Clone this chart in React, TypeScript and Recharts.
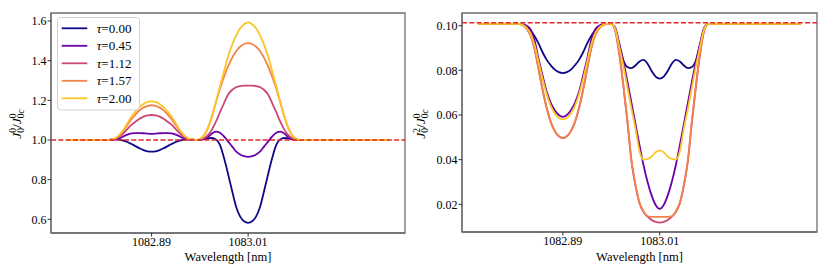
import React from 'react';
import { LineChart, Line, XAxis, YAxis, ReferenceLine, ReferenceArea } from 'recharts';

// wavelength grid [nm]
const wavelengths = [
  1082.785, 1082.8, 1082.82,
  1082.83, 1082.835, 1082.84, 1082.845, 1082.85, 1082.855, 1082.86, 1082.865, 1082.87, 1082.875,
  1082.88, 1082.885, 1082.89, 1082.895, 1082.9, 1082.905, 1082.91, 1082.915, 1082.92, 1082.925,
  1082.93, 1082.935, 1082.94, 1082.945,
  1082.95, 1082.955, 1082.96, 1082.965, 1082.97, 1082.975, 1082.98, 1082.985, 1082.99, 1082.995,
  1083.0, 1083.005, 1083.01, 1083.015, 1083.02, 1083.025, 1083.03, 1083.035, 1083.04, 1083.045,
  1083.05, 1083.055, 1083.06, 1083.065, 1083.07, 1083.075, 1083.08,
  1083.09, 1083.1, 1083.13, 1083.16, 1083.185,
];

const tauLabels = ['0.00', '0.45', '1.12', '1.57', '2.00'];
const tauColors = ['#0d0887', '#6a00a8', '#cc4778', '#f2844b', '#fcc527'];

// Left panel: J_0^0 / J_0c^0
const j00_t000 = [
  1.0, 1.0, 1.0,
  1.0, 1.0, 1.002, 1.004, 1.002, 0.997, 0.99, 0.98, 0.969, 0.958, 0.949, 0.943, 0.941,
  0.943, 0.949, 0.958, 0.969, 0.98, 0.99, 0.997, 1.002, 1.004, 1.002, 1.0,
  1.001, 1.004, 1.008, 1.01, 1.003, 0.975, 0.91, 0.83, 0.745, 0.665, 0.615, 0.59, 0.582,
  0.59, 0.615, 0.665, 0.745, 0.83, 0.91, 0.975, 1.003, 1.01, 1.008, 1.004, 1.001, 1.0, 1.0,
  1.0, 1.0, 1.0, 1.0, 1.0,
];
const j00_t045 = [
  1.0, 1.0, 1.0,
  1.0, 1.0, 1.0, 1.002, 1.008, 1.018, 1.027, 1.033, 1.035, 1.035, 1.034, 1.032, 1.031,
  1.032, 1.034, 1.035, 1.035, 1.033, 1.027, 1.018, 1.008, 1.002, 1.0, 1.0,
  1.001, 1.005, 1.015, 1.033, 1.042, 1.036, 1.018, 0.993, 0.968, 0.942, 0.927, 0.918, 0.915,
  0.918, 0.927, 0.942, 0.968, 0.993, 1.018, 1.036, 1.042, 1.033, 1.015, 1.005, 1.001, 1.0, 1.0,
  1.0, 1.0, 1.0, 1.0, 1.0,
];
const j00_t112 = [
  1.0, 1.0, 1.0,
  1.0, 1.0, 1.002, 1.006, 1.017, 1.034, 1.055, 1.076, 1.092, 1.107, 1.118, 1.124, 1.126,
  1.124, 1.118, 1.107, 1.092, 1.076, 1.055, 1.034, 1.017, 1.006, 1.002, 1.0,
  1.002, 1.009, 1.024, 1.052, 1.092, 1.14, 1.185, 1.228, 1.252, 1.266, 1.272, 1.274, 1.274,
  1.274, 1.272, 1.266, 1.252, 1.228, 1.185, 1.14, 1.092, 1.052, 1.024, 1.009, 1.002, 1.0, 1.0,
  1.0, 1.0, 1.0, 1.0, 1.0,
];
const j00_t157 = [
  1.0, 1.0, 1.0,
  1.0, 1.0, 1.003, 1.009, 1.023, 1.047, 1.076, 1.105, 1.128, 1.149, 1.163, 1.172, 1.175,
  1.172, 1.163, 1.149, 1.128, 1.105, 1.076, 1.047, 1.023, 1.009, 1.003, 1.0,
  1.005, 1.021, 1.06, 1.118, 1.19, 1.258, 1.318, 1.37, 1.413, 1.447, 1.47, 1.484, 1.488,
  1.484, 1.47, 1.447, 1.413, 1.37, 1.318, 1.258, 1.19, 1.118, 1.06, 1.021, 1.005, 1.0, 1.0,
  1.0, 1.0, 1.0, 1.0, 1.0,
];
const j00_t200 = [
  1.0, 1.0, 1.0,
  1.0, 1.0, 1.003, 1.01, 1.026, 1.052, 1.085, 1.117, 1.143, 1.166, 1.182, 1.192, 1.195,
  1.192, 1.182, 1.166, 1.143, 1.117, 1.085, 1.052, 1.026, 1.01, 1.003, 1.0,
  1.005, 1.022, 1.06, 1.118, 1.192, 1.27, 1.345, 1.42, 1.478, 1.526, 1.562, 1.584, 1.593,
  1.584, 1.562, 1.526, 1.478, 1.42, 1.345, 1.27, 1.192, 1.118, 1.06, 1.022, 1.005, 1.0, 1.0,
  1.0, 1.0, 1.0, 1.0, 1.0,
];

// Right panel: J_0^2 / J_0c^0
const j20_t000 = [
  0.1008, 0.1008, 0.1008,
  0.1008, 0.1008, 0.1004, 0.0995, 0.0979, 0.0953, 0.092, 0.088, 0.0847, 0.0823, 0.0803, 0.0792, 0.0788,
  0.0792, 0.0803, 0.0823, 0.0847, 0.088, 0.092, 0.0953, 0.0979, 0.0995, 0.1004, 0.1008,
  0.1008, 0.0985, 0.091, 0.0845, 0.0815, 0.081, 0.0822, 0.084, 0.0847, 0.083, 0.0797, 0.0772, 0.0763,
  0.0772, 0.0797, 0.083, 0.0847, 0.084, 0.0822, 0.081, 0.0815, 0.0845, 0.091, 0.0985, 0.1008, 0.1008, 0.1008,
  0.1008, 0.1008, 0.1008, 0.1008, 0.1008,
];
const j20_t045 = [
  0.1008, 0.1008, 0.1008,
  0.1008, 0.1008, 0.1006, 0.1, 0.0983, 0.0933, 0.085, 0.0775, 0.0704, 0.0654, 0.0621, 0.06, 0.0592,
  0.06, 0.0621, 0.0654, 0.0704, 0.0775, 0.085, 0.0933, 0.0983, 0.1, 0.1006, 0.1008,
  0.1008, 0.099, 0.092, 0.084, 0.075, 0.0655, 0.056, 0.0465, 0.0375, 0.03, 0.024, 0.0197, 0.018,
  0.0197, 0.024, 0.03, 0.0375, 0.0465, 0.056, 0.0655, 0.075, 0.084, 0.092, 0.099, 0.1008, 0.1008, 0.1008,
  0.1008, 0.1008, 0.1008, 0.1008, 0.1008,
];
const j20_t112 = [
  0.1008, 0.1008, 0.1008,
  0.1008, 0.1008, 0.1003, 0.0988, 0.0957, 0.0896, 0.0803, 0.0711, 0.063, 0.0568, 0.0528, 0.0504, 0.0496,
  0.0504, 0.0528, 0.0568, 0.063, 0.0711, 0.0803, 0.0896, 0.0957, 0.0988, 0.1003, 0.1008,
  0.1008, 0.0975, 0.087, 0.073, 0.057, 0.0395, 0.0285, 0.0205, 0.0165, 0.0145, 0.013, 0.0121, 0.0118,
  0.0121, 0.013, 0.0145, 0.0165, 0.0205, 0.0285, 0.0395, 0.057, 0.073, 0.087, 0.0975, 0.1008, 0.1008, 0.1008,
  0.1008, 0.1008, 0.1008, 0.1008, 0.1008,
];
const j20_t157 = [
  0.1008, 0.1008, 0.1008,
  0.1008, 0.1008, 0.1003, 0.0988, 0.0957, 0.0896, 0.0804, 0.0712, 0.0631, 0.0569, 0.0529, 0.0506, 0.0498,
  0.0506, 0.0529, 0.0569, 0.0631, 0.0712, 0.0804, 0.0896, 0.0957, 0.0988, 0.1003, 0.1008,
  0.1008, 0.0978, 0.0875, 0.0735, 0.0575, 0.04, 0.0288, 0.0208, 0.0168, 0.0146, 0.0144, 0.0144, 0.0144,
  0.0144, 0.0144, 0.0146, 0.0168, 0.0208, 0.0288, 0.04, 0.0575, 0.0735, 0.0875, 0.0978, 0.1008, 0.1008, 0.1008,
  0.1008, 0.1008, 0.1008, 0.1008, 0.1008,
];
const j20_t200 = [
  0.1008, 0.1008, 0.1008,
  0.1008, 0.1008, 0.1004, 0.0991, 0.0965, 0.0914, 0.0837, 0.076, 0.0692, 0.0641, 0.0607, 0.0587, 0.0581,
  0.0587, 0.0607, 0.0641, 0.0692, 0.076, 0.0837, 0.0914, 0.0965, 0.0991, 0.1004, 0.1008,
  0.1008, 0.0985, 0.0905, 0.082, 0.0725, 0.063, 0.054, 0.0438, 0.04, 0.0403, 0.0414, 0.0433, 0.044,
  0.0433, 0.0414, 0.0403, 0.04, 0.0438, 0.054, 0.063, 0.0725, 0.082, 0.0905, 0.0985, 0.1008, 0.1008, 0.1008,
  0.1008, 0.1008, 0.1008, 0.1008, 0.1008,
];

const leftTicksX = [1082.89, 1083.01];
const leftTicksY = [0.6, 0.8, 1.0, 1.2, 1.4, 1.6];
const rightTicksY = [0.02, 0.04, 0.06, 0.08, 0.1];
const leftRef = 1.0;
const rightRef = 0.1013;

const X_DOMAIN: [number, number] = [1082.765, 1083.205];
const LEFT_Y: [number, number] = [0.5309, 1.6403];
const RIGHT_Y: [number, number] = [0.00759, 0.10569];

const leftSeries = [j00_t000, j00_t045, j00_t112, j00_t157, j00_t200];
const rightSeries = [j20_t000, j20_t045, j20_t112, j20_t157, j20_t200];

const buildRows = (series: number[][]) =>
  wavelengths.map((w, i) => {
    const row: Record<string, number> = { w };
    series.forEach((s, k) => {
      row['s' + k] = s[i];
    });
    return row;
  });

const leftData = buildRows(leftSeries);
const rightData = buildRows(rightSeries);

const FONT = '"Liberation Serif", "DejaVu Serif", serif';
const FRAME = '#6e6e6e';

const tickStyle = { fill: '#000', fontSize: 12, fontFamily: FONT };

function Panel(props: {
  data: Record<string, number>[];
  yDomain: [number, number];
  yTicks: number[];
  yDigits: number;
  ref0: number;
  yAxisWidth: number;
  margin: { top: number; right: number; bottom: number; left: number };
  xAxisHeight: number;
}) {
  const { data, yDomain, yTicks, yDigits, ref0, yAxisWidth, margin, xAxisHeight } = props;
  return (
    <LineChart width={415} height={277} data={data} margin={margin}>
      <ReferenceArea
        x1={X_DOMAIN[0]}
        x2={X_DOMAIN[1]}
        y1={yDomain[0]}
        y2={yDomain[1]}
        fill="none"
        fillOpacity={0}
        stroke={FRAME}
        strokeWidth={1.3}
        ifOverflow="visible"
      />
      <XAxis
        dataKey="w"
        type="number"
        domain={X_DOMAIN}
        allowDataOverflow
        ticks={leftTicksX}
        tickFormatter={(v: number) => v.toFixed(2)}
        height={xAxisHeight}
        stroke={FRAME}
        axisLine={{ stroke: FRAME, strokeWidth: 1.3 }}
        tickLine={{ stroke: '#333' }}
        tickSize={3.5}
        tickMargin={1}
        tick={tickStyle}
        interval={0}
      />
      <YAxis
        type="number"
        domain={yDomain}
        allowDataOverflow
        ticks={yTicks}
        tickFormatter={(v: number) => v.toFixed(yDigits)}
        width={yAxisWidth}
        stroke={FRAME}
        axisLine={{ stroke: FRAME, strokeWidth: 1.3 }}
        tickLine={{ stroke: '#333' }}
        tickSize={3.5}
        tickMargin={1}
        tick={tickStyle}
        interval={0}
      />
      {tauLabels.map((t, k) => (
        <Line
          key={t}
          type="monotone"
          dataKey={'s' + k}
          stroke={tauColors[k]}
          strokeWidth={1.8}
          dot={false}
          activeDot={false}
          isAnimationActive={false}
        />
      ))}
      <ReferenceLine y={ref0} stroke="#e3242b" strokeWidth={1.6} strokeDasharray="5 2.3" />
    </LineChart>
  );
}

function YLabel(props: { x: number; y: number; sup: string }) {
  const { x, y, sup } = props;
  return (
    <text
      transform={`translate(${x},${y}) rotate(-90)`}
      textAnchor="middle"
      fontFamily={FONT}
      fontSize={13.5}
      fill="#000"
    >
      <tspan fontStyle="italic">J</tspan>
      <tspan dy={3.2} fontSize={9.5}>0</tspan>
      <tspan dx={-4.75} dy={-8} fontSize={9.5}>{sup}</tspan>
      <tspan dy={4.8}>/</tspan>
      <tspan fontStyle="italic">J</tspan>
      <tspan dy={3.2} fontSize={9.5}>0</tspan>
      <tspan fontSize={9.5} fontStyle="italic">c</tspan>
      <tspan dx={-9} dy={-8} fontSize={9.5}>0</tspan>
    </text>
  );
}

export default function App() {
  return (
    <div style={{ position: 'absolute', left: 0, top: 0, width: 830, height: 277, background: '#fff' }}>
      <div style={{ position: 'absolute', left: 0, top: 0 }}>
        <Panel
          data={leftData}
          yDomain={LEFT_Y}
          yTicks={leftTicksY}
          yDigits={1}
          ref0={leftRef}
          yAxisWidth={51}
          margin={{ top: 13, right: 10, bottom: 0, left: 0 }}
          xAxisHeight={44}
        />
      </div>
      <div style={{ position: 'absolute', left: 415, top: 0 }}>
        <Panel
          data={rightData}
          yDomain={RIGHT_Y}
          yTicks={rightTicksY}
          yDigits={2}
          ref0={rightRef}
          yAxisWidth={47}
          margin={{ top: 13, right: 13, bottom: 0, left: 0 }}
          xAxisHeight={45}
        />
      </div>
      <svg
        width={830}
        height={277}
        style={{ position: 'absolute', left: 0, top: 0, pointerEvents: 'none' }}
      >
        <YLabel x={21} y={124} sup="0" />
        <YLabel x={425} y={124} sup="2" />
        <text x={228} y={260.5} textAnchor="middle" fontFamily={FONT} fontSize={12.5} fill="#000">
          Wavelength [nm]
        </text>
        <text x={639.5} y={260.5} textAnchor="middle" fontFamily={FONT} fontSize={12.5} fill="#000">
          Wavelength [nm]
        </text>
        <g>
          <rect x={57.5} y={17.5} width={82} height={92.5} rx={3} fill="#fff" fillOpacity={0.85} stroke="#d0d0d0" />
          {tauLabels.map((t, k) => {
            const cy = 28.3 + k * 17.5;
            return (
              <g key={t}>
                <line x1={61.7} x2={87.3} y1={cy} y2={cy} stroke={tauColors[k]} strokeWidth={1.8} />
                <text x={96.7} y={cy + 4.3} fontFamily={FONT} fontSize={13} fill="#000">
                  <tspan fontStyle="italic">τ</tspan>
                  <tspan>={t}</tspan>
                </text>
              </g>
            );
          })}
        </g>
      </svg>
    </div>
  );
}
